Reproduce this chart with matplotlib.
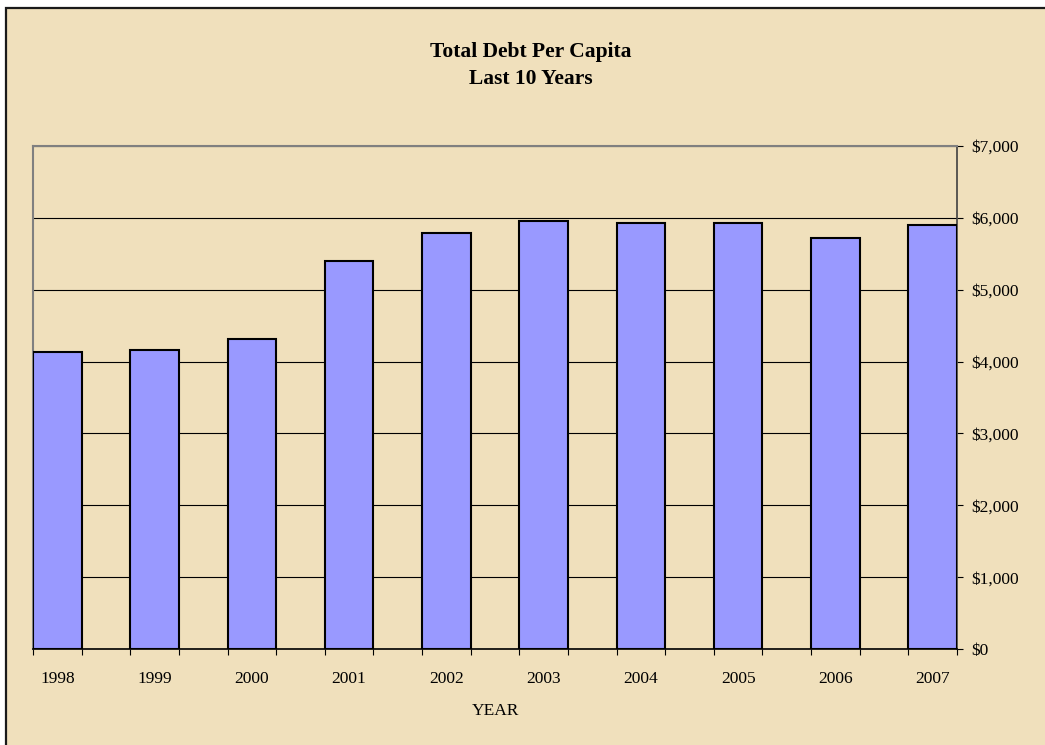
import matplotlib
matplotlib.use("Agg")
import matplotlib.pyplot as plt
from matplotlib.patches import Rectangle
from matplotlib.ticker import FuncFormatter, MultipleLocator
import numpy as np

plt.rcParams['font.family'] = ['Liberation Serif', 'DejaVu Serif']

# data
years = ['1998', '1999', '2000', '2001', '2002', '2003', '2004', '2005', '2006', '2007']
debt_per_capita = [4133, 4165, 4310, 5395, 5785, 5960, 5932, 5924, 5724, 5905]

parchment = '#F0E0BC'
bar_color = '#9999FF'

fig = plt.figure(figsize=(10.45, 7.45), dpi=100)
fig.patch.set_facecolor('white')

# parchment panel with a dark border on top and left
panel = Rectangle((6 / 1045, -0.02), 1.1, 1 - 8 / 745 + 0.02,
                  transform=fig.transFigure, facecolor=parchment,
                  edgecolor='#1a1a1a', linewidth=1.6, zorder=-10)
fig.patches.append(panel)

ax = fig.add_axes([33 / 1045, 1 - 649 / 745, (957 - 33) / 1045, (649 - 146) / 745])
ax.set_facecolor('none')
ax.set_zorder(1)

x = np.arange(len(years))
ax.bar(x, debt_per_capita, width=0.5, color=bar_color, edgecolor='black',
       linewidth=1.5, zorder=3)

ax.set_xlim(-0.25, len(years) - 0.75)
ax.set_ylim(0, 7000)

# horizontal gridlines
ax.yaxis.set_major_locator(MultipleLocator(1000))
ax.grid(axis='y', color='black', linewidth=0.8, zorder=1)
ax.set_axisbelow(True)

# spines
ax.spines['top'].set_color('#808080')
ax.spines['top'].set_linewidth(1.5)
ax.spines['left'].set_color('#808080')
ax.spines['left'].set_linewidth(1.5)
ax.spines['right'].set_color('#404040')
ax.spines['right'].set_linewidth(1.2)
ax.spines['bottom'].set_color('black')
ax.spines['bottom'].set_linewidth(1.2)

# y axis on the right
ax.yaxis.tick_right()
ax.yaxis.set_major_formatter(FuncFormatter(lambda v, p: f'${int(v):,}'))
ax.tick_params(axis='y', which='major', direction='out', length=4, width=0.8,
               color='black', labelsize=12.5, pad=6)

# x axis: labels at bar centres, tick marks at bar edges
ax.set_xticks(x)
ax.set_xticklabels(years)
edges = np.concatenate([x - 0.25, x + 0.25])
ax.set_xticks(edges, minor=True)
ax.tick_params(axis='x', which='major', length=0, labelsize=12.5, pad=15.5)
ax.tick_params(axis='x', which='minor', direction='out', length=4, width=0.8,
               color='black')
ax.set_xlabel('YEAR', fontsize=12.5, labelpad=12)

fig.text(531 / 1045, 1 - 52 / 745, 'Total Debt Per Capita', ha='center',
         va='center', fontsize=15.5, fontweight='bold')
fig.text(531 / 1045, 1 - 79 / 745, 'Last 10 Years', ha='center',
         va='center', fontsize=15.5, fontweight='bold')

fig.savefig('out.png', dpi=100, facecolor=fig.get_facecolor())
